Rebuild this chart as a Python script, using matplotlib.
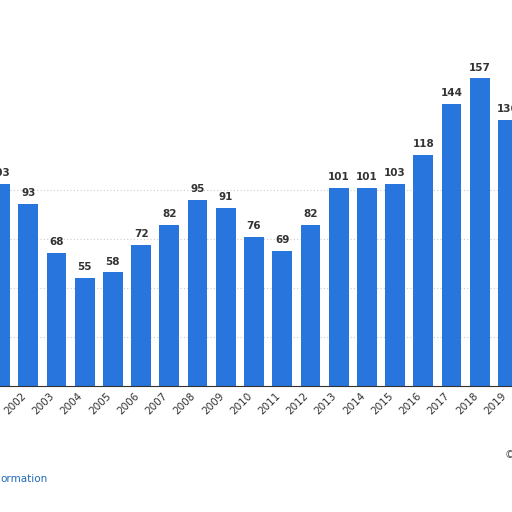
import matplotlib
matplotlib.use("Agg")
import matplotlib.pyplot as plt

years = [str(y) for y in range(2001, 2020)]
values = [103, 93, 68, 55, 58, 72, 82, 95, 91, 76, 69, 82, 101, 101, 103, 118, 144, 157, 136]
labels = ["103", "93", "68", "55", "58", "72", "82", "95", "91", "76", "69", "82", "101", "101", "103", "118", "144", "157", "136"]

fig = plt.figure(figsize=(5.12, 5.12), dpi=100)
ax = fig.add_axes([0, 0.246, 1, 0.754])
x = list(range(len(years)))
ax.bar(x, values, width=0.7, color="#2876dd", zorder=2)
for xi, v, l in zip(x, values, labels):
    ax.text(xi, v + 3, l, ha="center", va="bottom", fontsize=7.5, fontweight="bold", color="#333333")
ax.set_xlim(0.303, 18.14)
ax.set_ylim(0, 197)
ax.set_yticks([25, 50, 75, 100])
ax.yaxis.grid(True, color="#cccccc", linestyle=(0, (1, 2)), linewidth=0.8, zorder=0)
ax.tick_params(axis="y", length=0, labelleft=False)
ax.set_xticks(x)
ax.set_xticklabels(years, rotation=45, ha="right", fontsize=7.5, color="#333333")
ax.tick_params(axis="x", length=0)
for s in ["top", "left", "right"]:
    ax.spines[s].set_visible(False)
ax.spines["bottom"].set_color("#333333")
fig.text(0.0, 1 - 479 / 512, "ormation", color="#2269b5", fontsize=7.5, va="center")
fig.text(0.985, 1 - 455 / 512, "©", color="#555555", fontsize=7.5, va="center")
fig.savefig("out.png", dpi=100)
